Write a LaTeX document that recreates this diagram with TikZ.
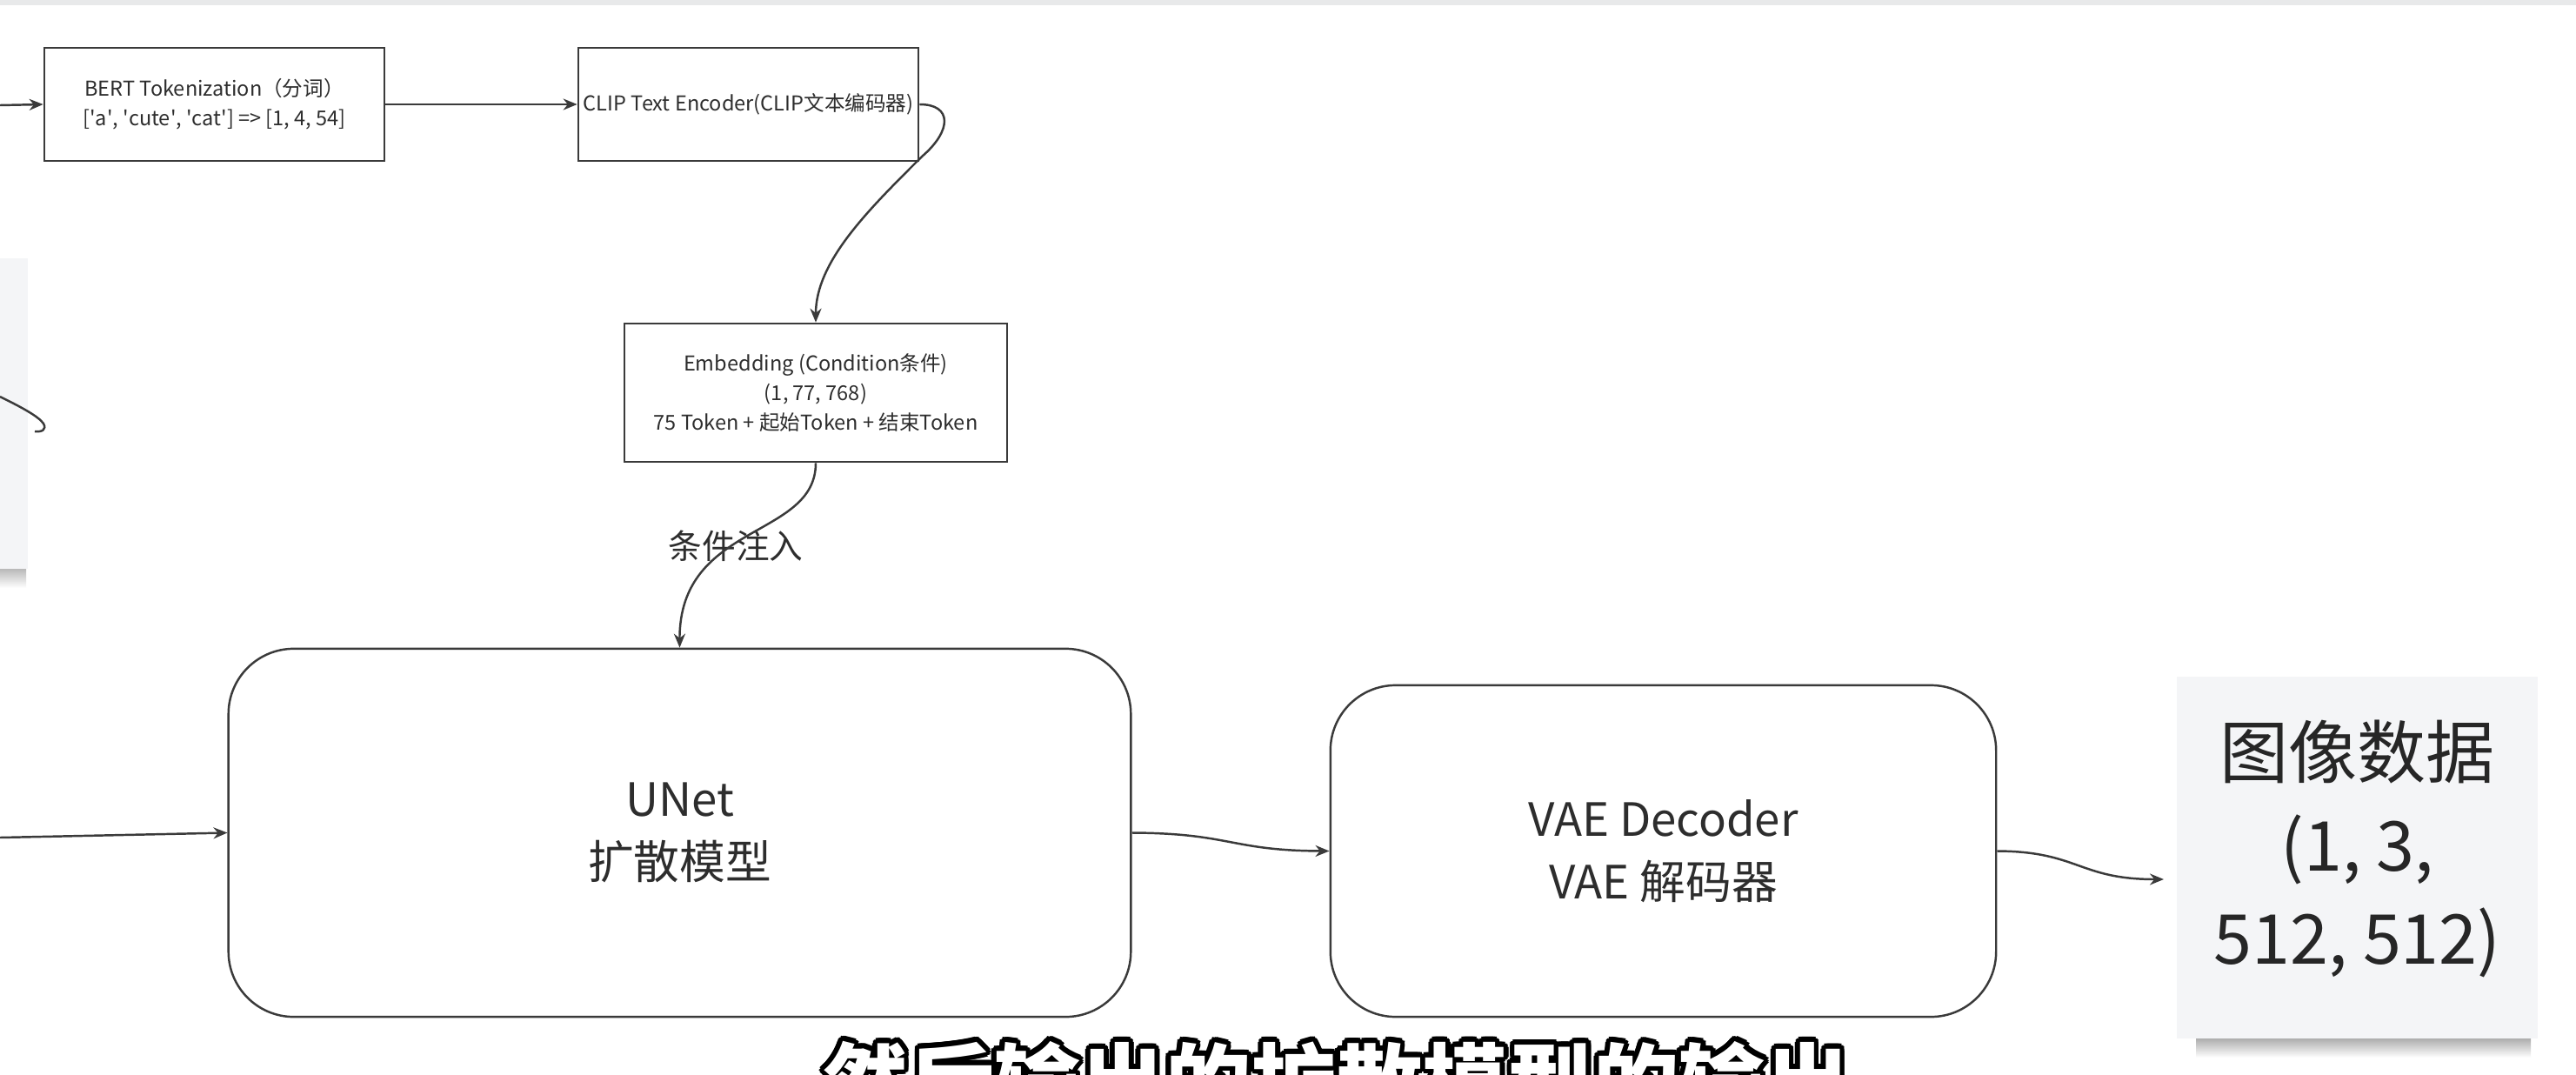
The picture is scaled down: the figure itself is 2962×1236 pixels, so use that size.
\documentclass[tikz,border=0pt]{standalone}
\definecolor{linegray}{RGB}{58, 58, 58}
\definecolor{textgray}{RGB}{45, 45, 45}
\definecolor{cardgray}{RGB}{244, 245, 247}
\definecolor{bandgray}{RGB}{232, 233, 234}
\usepackage{fontspec}
\setmainfont{Noto Sans CJK SC}
\usepackage[copies]{contour}
\usepackage{tikz}
\usetikzlibrary{arrows.meta, positioning}
\contourlength{1.6pt}

\tikzset{
  arr/.style={draw=linegray, line width=0.7pt, -{Stealth[length=0.16cm, width=0.13cm]}},
  sqbox/.style={draw=linegray, line width=0.7pt, fill=white, text=textgray, align=center, inner sep=0pt,
    font=\fontsize{6.7}{9.6}\selectfont},
  roundbox/.style={draw=linegray, line width=0.7pt, fill=white, text=textgray, align=center, inner sep=0pt,
    rounded corners=0.75cm, font=\fontsize{15}{20.5}\selectfont},
  card/.style={fill=cardgray, text=black!85, align=center, inner sep=0pt,
    font=\fontsize{22.5}{30.5}\selectfont}
}

\begin{document}
\begin{tikzpicture}[x=0.01cm, y=-0.01cm]
  \clip (0,0) rectangle (2962,1236);
  \fill[white] (0,0) rectangle (2962,1236);
  \fill[bandgray] (0,0) rectangle (2962,6);

  \shade[top color=black!30, bottom color=white] (0,652) rectangle (30,676);
  \fill[cardgray] (-5,297) rectangle (32,654);
  \draw[linegray, line width=0.7pt] (0,456) .. controls (20,466) and (44,478) .. (50,487)
    .. controls (54,494) and (48,497) .. (40,496);

  \node[sqbox, minimum width=3.91cm, minimum height=1.30cm] (bert) at (246.5,120)
    {BERT Tokenization（分词）\\{}[\textquotesingle a\textquotesingle, \textquotesingle cute\textquotesingle, \textquotesingle cat\textquotesingle] => [1, 4, 54]};
  \node[sqbox, minimum width=3.91cm, minimum height=1.30cm] (encoder) at (860.5,120)
    {CLIP Text Encoder(CLIP文本编码器)};
  \node[sqbox, minimum width=4.40cm, minimum height=1.59cm] (embed) at (938,451.5)
    {Embedding (Condition条件)\\(1, 77, 768)\\75 Token + 起始Token + 结束Token};
  \node[roundbox, minimum width=10.37cm, minimum height=4.23cm] (unet) at (781.5,957.5)
    {UNet\\扩散模型};
  \node[roundbox, minimum width=7.65cm, minimum height=3.81cm] (vae) at (1912.5,978.5)
    {VAE Decoder\\VAE 解码器};
  \shade[top color=black!35, bottom color=white] (2525,1192) rectangle (2910,1216);
  \fill[cardgray] (2503,778) rectangle (2918,1194);
  \node[card] (image) at (2710.5,976)
    {图像数据\\(1, 3,\\512, 512)};
  \node[text=textgray, font=\fontsize{11}{13}\selectfont] (inject) at (846,628) {条件注入};

  \coordinate (inbert) at (0,121);
  \coordinate (inunet) at (0,963);
  \coordinate (inimage) at (2488,1011);

  \draw[arr] (inbert) -- (bert.west);
  \draw[arr] (bert.east) -- (encoder.west);
  \draw[arr] (encoder.east) .. controls (1095,120) and (1095,150) .. (1060,180)
    .. controls (1000,240) and (938,300) .. (embed.north);
  \draw[arr] (embed.south) .. controls (938,620) and (781,600) .. (unet.north);
  \draw[arr] (inunet) -- (unet.west);
  \draw[arr] (unet.east) .. controls (1415,958) and (1415,978) .. (vae.west);
  \draw[arr] (vae.east) .. controls (2390,979) and (2390,1011) .. (inimage);

  \node[anchor=base, text=white, font=\fontsize{28}{30}\selectfont\bfseries] (subtitle) at (1537,1282)
    {\contour{black}{然后输出的扩散模型的输出}};
\end{tikzpicture}
\end{document}
